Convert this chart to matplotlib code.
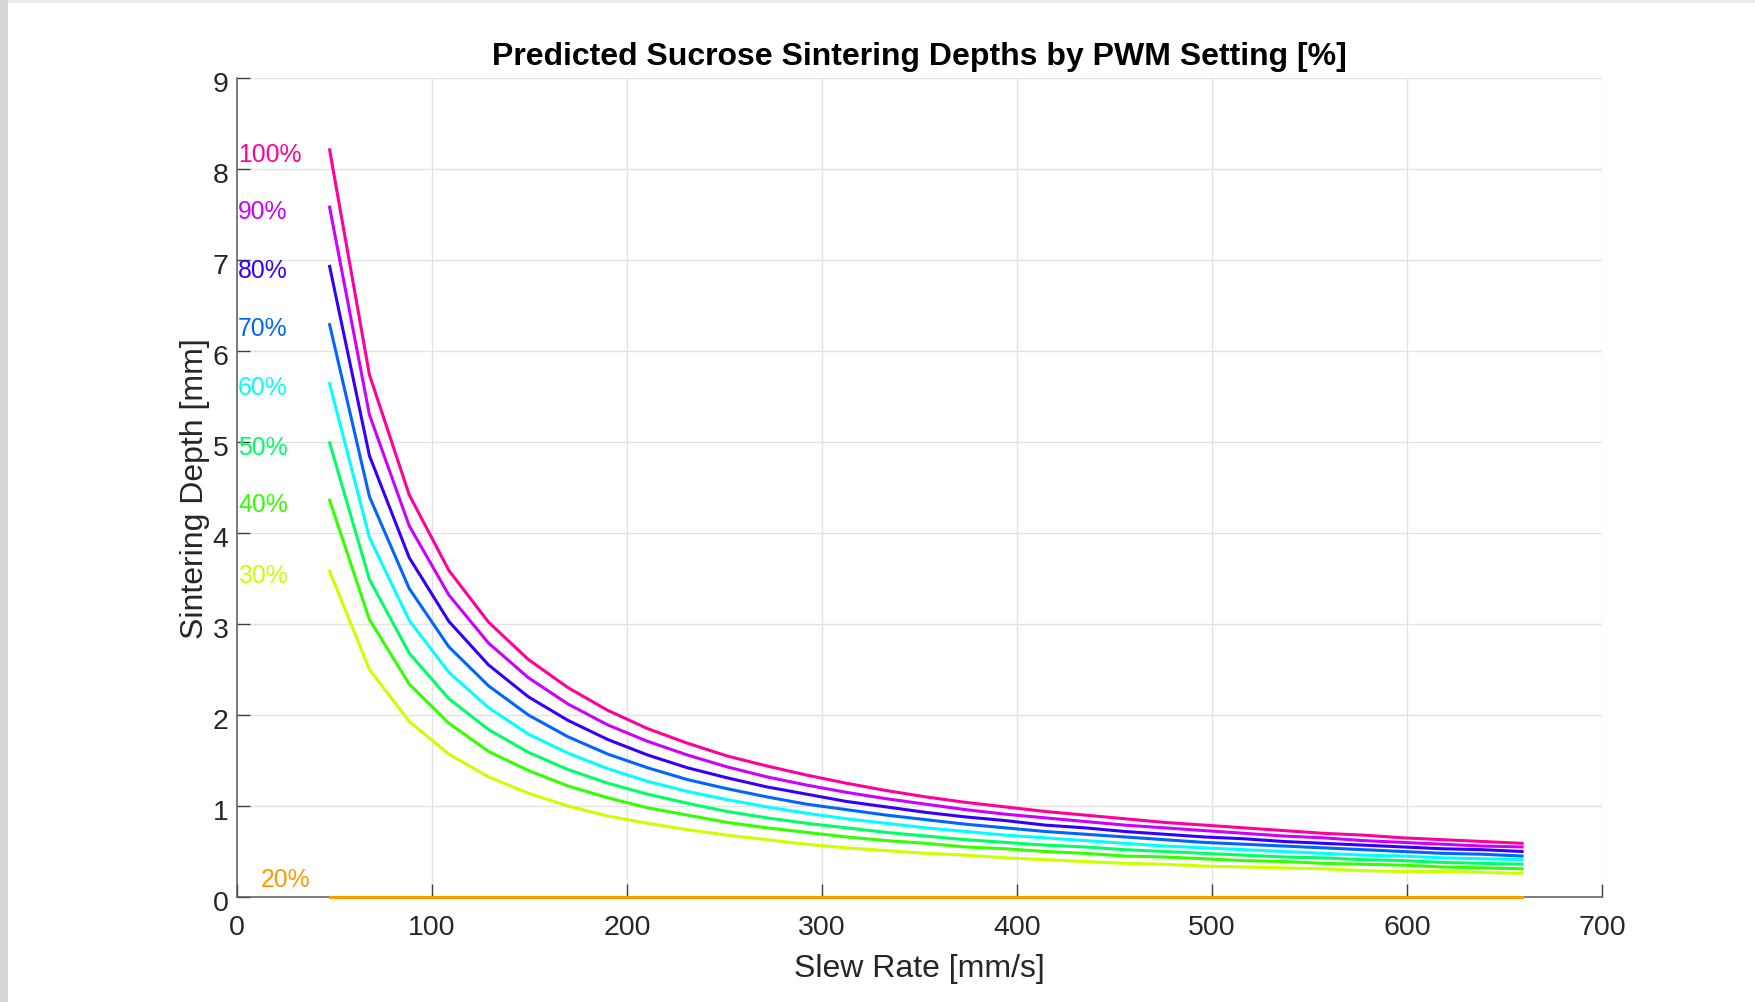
import matplotlib
matplotlib.use("Agg")
import matplotlib.pyplot as plt
import matplotlib.transforms as mtransforms
from matplotlib.patches import Rectangle

plt.rcParams['font.family'] = ['Liberation Sans', 'DejaVu Sans']

# Slew rate samples [mm/s]
slew_rate = [47.5, 67.9, 88.3, 108.6, 129.0, 149.4, 169.8, 190.2, 210.6, 231.0,
             251.3, 271.7, 292.1, 312.5, 332.9, 353.2, 373.6, 394.0, 414.4, 434.8,
             455.2, 475.5, 495.9, 516.3, 536.7, 557.1, 577.5, 597.8, 618.2, 638.6, 659.0]

# Sintering depth [mm] per PWM setting
depth_100 = [8.21, 5.74, 4.42, 3.59, 3.02, 2.61, 2.30, 2.05, 1.85, 1.69,
             1.55, 1.44, 1.34, 1.25, 1.17, 1.10, 1.04, 0.99, 0.94, 0.90,
             0.86, 0.82, 0.79, 0.76, 0.73, 0.70, 0.68, 0.65, 0.63, 0.61, 0.59]
depth_90 = [7.58, 5.30, 4.08, 3.32, 2.79, 2.41, 2.12, 1.89, 1.71, 1.56,
            1.43, 1.32, 1.23, 1.15, 1.08, 1.02, 0.96, 0.91, 0.87, 0.83,
            0.79, 0.76, 0.73, 0.70, 0.67, 0.65, 0.62, 0.60, 0.58, 0.56, 0.55]
depth_80 = [6.93, 4.85, 3.73, 3.03, 2.55, 2.20, 1.94, 1.73, 1.56, 1.42,
            1.31, 1.21, 1.13, 1.05, 0.99, 0.93, 0.88, 0.84, 0.79, 0.76,
            0.72, 0.69, 0.66, 0.64, 0.61, 0.59, 0.57, 0.55, 0.53, 0.52, 0.50]
depth_70 = [6.29, 4.40, 3.39, 2.75, 2.32, 2.00, 1.76, 1.57, 1.42, 1.29,
            1.19, 1.10, 1.02, 0.96, 0.90, 0.85, 0.80, 0.76, 0.72, 0.69,
            0.66, 0.63, 0.60, 0.58, 0.56, 0.54, 0.52, 0.50, 0.48, 0.47, 0.45]
depth_60 = [5.64, 3.95, 3.04, 2.47, 2.08, 1.79, 1.58, 1.41, 1.27, 1.16,
            1.07, 0.99, 0.92, 0.86, 0.81, 0.76, 0.72, 0.68, 0.65, 0.62,
            0.59, 0.56, 0.54, 0.52, 0.50, 0.48, 0.46, 0.45, 0.43, 0.42, 0.41]
depth_50 = [4.99, 3.49, 2.68, 2.18, 1.84, 1.59, 1.40, 1.25, 1.13, 1.03,
            0.94, 0.87, 0.81, 0.76, 0.71, 0.67, 0.63, 0.60, 0.57, 0.55,
            0.52, 0.50, 0.48, 0.46, 0.44, 0.43, 0.41, 0.40, 0.38, 0.37, 0.36]
depth_40 = [4.36, 3.05, 2.34, 1.91, 1.60, 1.39, 1.22, 1.09, 0.98, 0.90,
            0.82, 0.76, 0.71, 0.66, 0.62, 0.59, 0.55, 0.53, 0.50, 0.48,
            0.45, 0.44, 0.42, 0.40, 0.39, 0.37, 0.36, 0.35, 0.33, 0.32, 0.31]
depth_30 = [3.58, 2.50, 1.93, 1.57, 1.32, 1.14, 1.00, 0.89, 0.81, 0.74,
            0.68, 0.63, 0.58, 0.54, 0.51, 0.48, 0.46, 0.43, 0.41, 0.39,
            0.37, 0.36, 0.34, 0.33, 0.32, 0.31, 0.29, 0.28, 0.28, 0.27, 0.26]
depth_20 = [0.0] * 31

pwm_labels = ['20%', '30%', '40%', '50%', '60%', '70%', '80%', '90%', '100%']
series = [depth_20, depth_30, depth_40, depth_50, depth_60,
          depth_70, depth_80, depth_90, depth_100]
colors = ['#FF9900', '#CCFF00', '#33FF00', '#00FF66', '#00FFFF',
          '#0066FF', '#3300FF', '#CC00FF', '#FF0099']

x_ticks = [0, 100, 200, 300, 400, 500, 600, 700]
y_ticks = [0, 1, 2, 3, 4, 5, 6, 7, 8, 9]

W, H = 1755, 1003
fig = plt.figure(figsize=(W / 100, H / 100), dpi=100)
fig.patch.set_facecolor('white')
# window chrome strips (screenshot border)
fig.patches.append(Rectangle((0, 1 - 4 / H), 1, 4 / H, transform=fig.transFigure,
                             facecolor='#ECECEC', edgecolor='none', zorder=0))
fig.patches.append(Rectangle((0, 0), 8 / W, 1, transform=fig.transFigure,
                             facecolor='#D4D4D4', edgecolor='none', zorder=0))

ax = fig.add_axes([237 / W, 1 - 898 / H, (1602 - 237) / W, (898 - 79) / H])

for vals, c in zip(series, colors):
    ax.plot(slew_rate, vals, color=c, linewidth=2.2, solid_joinstyle='miter',
            clip_on=False, zorder=3)

for lab, vals, c in zip(pwm_labels, series, colors):
    if lab == '20%':
        ax.text(12.0, 0.2, lab, color=c, fontsize=17.8, ha='left', va='center')
    else:
        ax.text(0.6, vals[0] - 0.04, lab, color=c, fontsize=17.8, ha='left', va='center')

ax.set_xlim(0, 700)
ax.set_ylim(0, 9)
ax.set_xticks(x_ticks)
ax.set_yticks(y_ticks)
ax.grid(True, color='#E3E3E3', linewidth=1.0)
ax.set_axisbelow(True)
for s in ['top', 'right']:
    ax.spines[s].set_visible(False)
for s in ['left', 'bottom']:
    ax.spines[s].set_color('#5A5A5A')
    ax.spines[s].set_linewidth(1.1)
ax.tick_params(axis='both', direction='in', length=9.5, width=1.0, color='#404040',
               labelcolor='#262626', labelsize=20.5)
ax.tick_params(axis='x', pad=12)
ax.tick_params(axis='y', pad=6)
shift_down = mtransforms.ScaledTranslation(0, -3 / 100, fig.dpi_scale_trans)
for t in ax.get_yticklabels():
    t.set_transform(t.get_transform() + shift_down)

ax.set_title('Predicted Sucrose Sintering Depths by PWM Setting [%]',
             fontsize=23, fontweight='bold', color='black', pad=10)
ax.set_xlabel('Slew Rate [mm/s]', fontsize=23, color='#262626', va='center')
ax.xaxis.set_label_coords(0.5, -(969 - 898) / (898 - 79))
ax.set_ylabel('Sintering Depth [mm]', fontsize=23, color='#262626', va='center')
ax.yaxis.set_label_coords(-(237 - 194.5) / (1602 - 237), 0.5)

fig.savefig('out.png', dpi=100, facecolor='white')
